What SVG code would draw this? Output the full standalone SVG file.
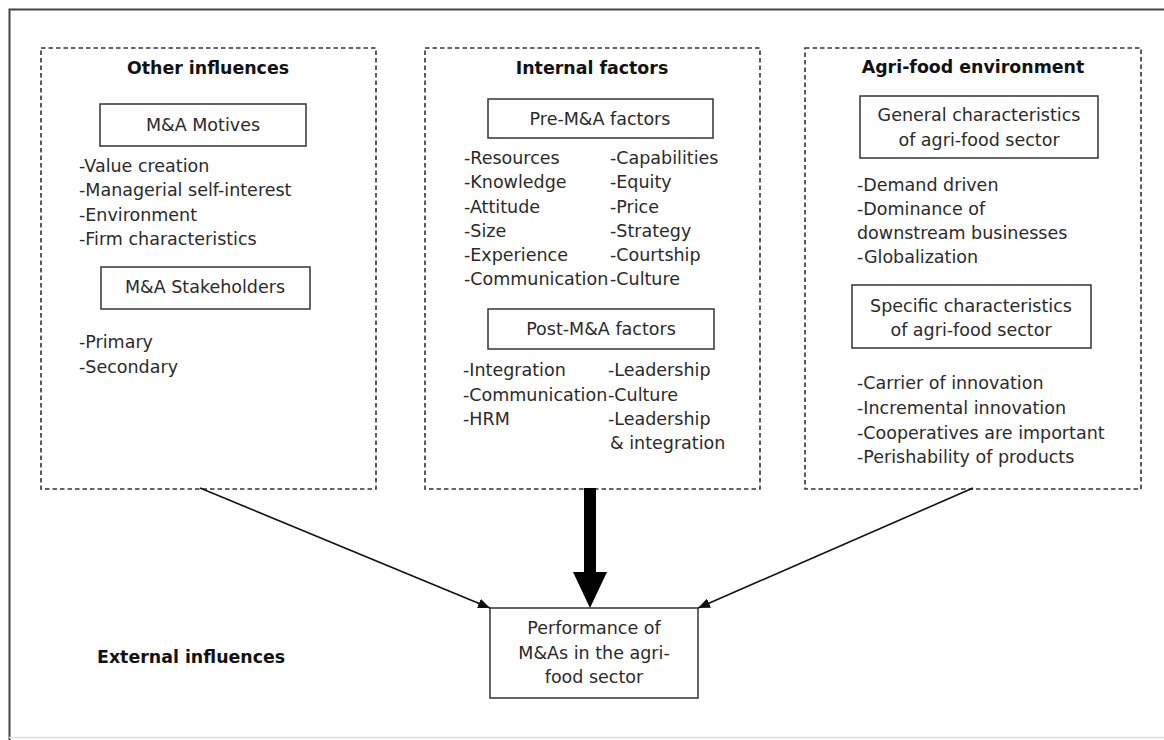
<svg xmlns="http://www.w3.org/2000/svg" width="1164" height="740" viewBox="0 0 1164 740">
<style>
text{font-family:"DejaVu Sans",Verdana,sans-serif;font-size:17.5px;fill:#2a2a2a}
.t{font-weight:bold;fill:#111;text-anchor:middle;font-size:17.4px}
.c{text-anchor:middle}
.dash{fill:none;stroke:#333;stroke-width:1.6;stroke-dasharray:4.5 3}
.box{fill:#fff;stroke:#333;stroke-width:1.5}
.ln{stroke:#111;stroke-width:1.6;fill:none}
</style>
<defs>
<marker id="ah" viewBox="0 0 12 10" refX="12" refY="5" markerWidth="12" markerHeight="10" markerUnits="userSpaceOnUse" orient="auto">
<path d="M0,0 L12,5 L0,10 Z" fill="#111"/>
</marker>
</defs>
<rect width="1164" height="740" fill="#fff"/>
<g id="frame">
<path d="M1164,9.5 H9.5 V740" fill="none" stroke="#444" stroke-width="2"/>
<line x1="9" y1="737.5" x2="1164" y2="737.5" stroke="#ddd" stroke-width="1.5"/>
</g>
<g id="other-influences">
<rect class="dash" x="41" y="48" width="335" height="441"/>
<text class="t" x="208" y="74">Other influences</text>
<rect class="box" x="100" y="104" width="206" height="42"/>
<text class="c" x="203" y="131">M&amp;A Motives</text>
<text x="79" y="172">-Value creation</text>
<text x="79" y="196">-Managerial self-interest</text>
<text x="79" y="221">-Environment</text>
<text x="79" y="245">-Firm characteristics</text>
<rect class="box" x="101" y="267" width="209" height="42"/>
<text class="c" x="205" y="293">M&amp;A Stakeholders</text>
<text x="79" y="348">-Primary</text>
<text x="79" y="373">-Secondary</text>
</g>
<g id="internal-factors">
<rect class="dash" x="425" y="48" width="335" height="441"/>
<text class="t" x="592" y="74">Internal factors</text>
<rect class="box" x="488" y="99" width="225" height="39"/>
<text class="c" x="600" y="125">Pre-M&amp;A factors</text>
<text x="464" y="164">-Resources</text>
<text x="464" y="188">-Knowledge</text>
<text x="464" y="213">-Attitude</text>
<text x="464" y="237">-Size</text>
<text x="464" y="261">-Experience</text>
<text x="464" y="285">-Communication</text>
<text x="610" y="164">-Capabilities</text>
<text x="610" y="188">-Equity</text>
<text x="610" y="213">-Price</text>
<text x="610" y="237">-Strategy</text>
<text x="610" y="261">-Courtship</text>
<text x="610" y="285">-Culture</text>
<rect class="box" x="488" y="309" width="226" height="40"/>
<text class="c" x="601" y="335">Post-M&amp;A factors</text>
<text x="463" y="376">-Integration</text>
<text x="463" y="401">-Communication</text>
<text x="463" y="425">-HRM</text>
<text x="608" y="376">-Leadership</text>
<text x="608" y="401">-Culture</text>
<text x="608" y="425">-Leadership</text>
<text x="610" y="449">&amp; integration</text>
</g>
<g id="agri-food-environment">
<rect class="dash" x="805" y="48" width="336" height="441"/>
<text class="t" x="973" y="73">Agri-food environment</text>
<rect class="box" x="860" y="96" width="238" height="62"/>
<text class="c" x="979" y="121">General characteristics</text>
<text class="c" x="979" y="146">of agri-food sector</text>
<text x="857" y="191">-Demand driven</text>
<text x="857" y="215">-Dominance of</text>
<text x="857" y="239">downstream businesses</text>
<text x="857" y="263">-Globalization</text>
<rect class="box" x="852" y="285" width="239" height="63"/>
<text class="c" x="971" y="312">Specific characteristics</text>
<text class="c" x="971" y="336">of agri-food sector</text>
<text x="857" y="389">-Carrier of innovation</text>
<text x="857" y="414">-Incremental innovation</text>
<text x="857" y="439">-Cooperatives are important</text>
<text x="857" y="463">-Perishability of products</text>
</g>
<g id="performance">
<rect class="box" x="490" y="608" width="208" height="90"/>
<text class="c" x="594" y="634">Performance of</text>
<text class="c" x="594" y="659">M&amp;As in the agri-</text>
<text class="c" x="594" y="683">food sector</text>
</g>
<g id="external-influences">
<text x="97" y="663" style="font-weight:bold;fill:#111;font-size:17.4px">External influences</text>
</g>
<g id="connectors">
<line class="ln" x1="200" y1="488" x2="490" y2="608" marker-end="url(#ah)"/>
<line class="ln" x1="973" y1="488" x2="698" y2="608" marker-end="url(#ah)"/>
<polygon points="584,488 596,488 596,572 607,572 590,608 573,572 584,572" fill="#000"/>
</g>
</svg>
